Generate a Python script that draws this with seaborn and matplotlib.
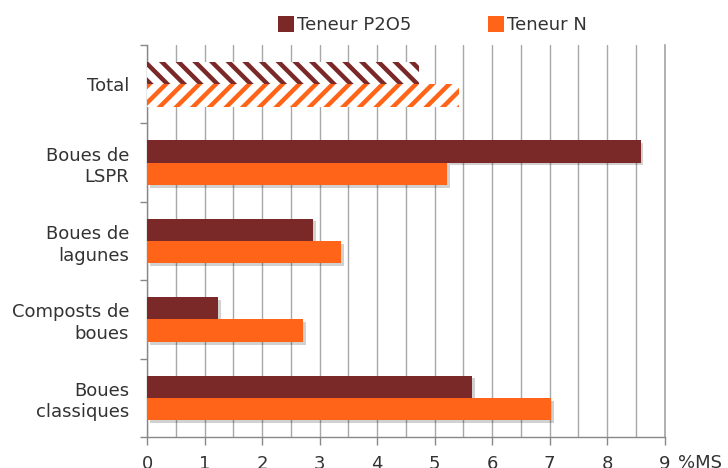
import matplotlib
matplotlib.use("Agg")
import matplotlib.pyplot as plt
import matplotlib.patheffects as pe
from matplotlib.lines import Line2D
import seaborn as sns
import pandas as pd
import numpy as np

categories = ["Total", "Boues de\nLSPR", "Boues de\nlagunes", "Composts de\nboues", "Boues\nclassiques"]
series = ["Teneur P2O5", "Teneur N"]
p2o5 = [4.73, 8.58, 2.89, 1.23, 5.65]
n_vals = [5.43, 5.22, 3.37, 2.71, 7.03]
colors = ["#7B2828", "#FF6418"]

sns.set_theme(style="white")
plt.rcParams["font.family"] = ["DejaVu Sans"]
plt.rcParams["hatch.linewidth"] = 3.2
text_color = "#333333"
fs = 13

df = pd.DataFrame({
    "cat": categories * 2,
    "series": [series[0]] * 5 + [series[1]] * 5,
    "value": p2o5 + n_vals,
})

fig = plt.figure(figsize=(7.28, 4.68), dpi=100)
ax = fig.add_axes([0.202, 0.066, 0.711, 0.838])

sns.barplot(data=df, y="cat", x="value", hue="series", order=categories,
            hue_order=series, palette=colors, orient="h", width=0.57,
            ax=ax, legend=False, saturation=1)

shadow = [pe.SimplePatchShadow(offset=(2, -2), shadow_rgbFace="#000000", alpha=0.18), pe.Normal()]
for container, col, hatch in zip(ax.containers, colors, ["\\\\", "//"]):
    for i, bar in enumerate(container):
        bar.set_linewidth(0)
        bar.set_zorder(3)
        if i == 0:
            bar.set_facecolor("white")
            bar.set_edgecolor(col)
            bar.set_hatch(hatch)
        else:
            bar.set_path_effects(shadow)

ax.set_xlim(0, 9)
ax.set_ylim(4.5, -0.5)
ax.set_xticks(np.arange(0, 10, 1))
ax.set_xticks(np.arange(0.5, 9, 1), minor=True)
ax.grid(axis="x", which="both", color="#a8a8a8", linewidth=1, zorder=0)
ax.set_axisbelow(True)
ax.set_xlabel("")
ax.set_ylabel("")

ax.set_yticks(np.arange(0, 5))
ax.set_yticklabels(categories, fontsize=fs, color=text_color, linespacing=1.25)
ax.set_yticks(np.arange(-0.5, 5, 1), minor=True)
ax.tick_params(axis="y", which="major", length=0, pad=13)
ax.tick_params(axis="y", which="minor", length=5, width=1, color="#888888", direction="out", left=True)
ax.tick_params(axis="x", which="major", length=6, width=1, color="#888888", direction="out",
               bottom=True, labelsize=fs, labelcolor=text_color, pad=7)
ax.tick_params(axis="x", which="minor", length=0)

ax.spines["top"].set_visible(False)
ax.spines["right"].set_color("#a8a8a8")
for s in ["left", "bottom"]:
    ax.spines[s].set_color("#888888")
    ax.spines[s].set_linewidth(1)

ax.text(1.025, -0.044, "%MS", transform=ax.transAxes, fontsize=fs, color=text_color,
        ha="left", va="top")

handles = [Line2D([0], [0], marker="s", linestyle="", markersize=11, markerfacecolor=c,
                  markeredgewidth=0) for c in colors]
fig.legend(handles, series, loc="upper center", bbox_to_anchor=(0.594, 1.0), ncol=2,
           frameon=False, fontsize=fs, labelcolor=text_color, handletextpad=0.2,
           handlelength=0.9, columnspacing=4.2)

fig.savefig("out.png", dpi=100)
